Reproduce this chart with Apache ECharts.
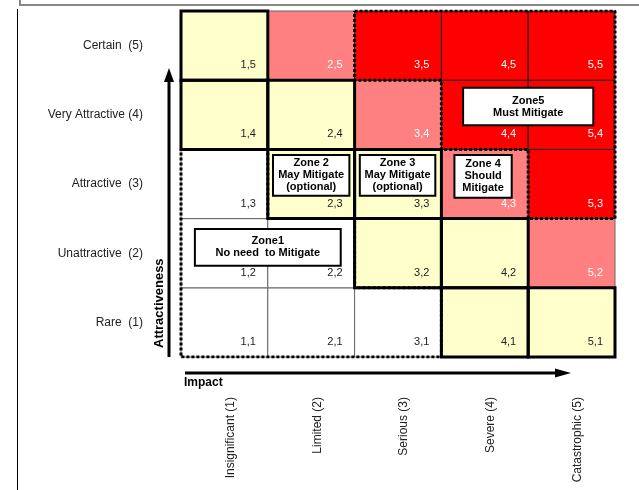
<!DOCTYPE html>
<html>
<head>
<meta charset="utf-8">
<script src="https://cdn.jsdelivr.net/npm/echarts@6/dist/echarts.min.js"></script>
<style>
  html, body { margin: 0; padding: 0; background: #fff; }
  #chart { width: 639px; height: 490px; }
</style>
</head>
<body>
<div id="chart"></div>
<script>
const FONT = '"Liberation Sans", Arial, sans-serif';

const impactLabels = ['Insignificant (1)', 'Limited (2)', 'Serious (3)', 'Severe (4)', 'Catastrophic (5)'];
const attractLabels = ['Rare  (1)', 'Unattractive  (2)', 'Attractive  (3)', 'Very Attractive (4)', 'Certain  (5)'];

// risk level of each cell: row = attractiveness 1..5, column = impact 1..5
// 0 white, 1 yellow, 2 salmon, 3 red
const riskLevels = [
  [0, 0, 0, 1, 1],
  [0, 0, 1, 1, 2],
  [0, 1, 1, 2, 3],
  [1, 1, 2, 3, 3],
  [1, 2, 3, 3, 3]
];
const levelColors = ['#ffffff', '#ffffcc', '#ff8080', '#ff0000'];
const labelColors = ['#222222', '#222222', '#ffffff', '#ffffff'];

// dotted zone outlines, along the cell edges
const zone1Outline = [[0.5, 3.5], [1.5, 3.5], [1.5, 2.5], [2.5, 2.5], [2.5, 1.5], [3.5, 1.5], [3.5, 0.5], [0.5, 0.5], [0.5, 3.5]];
const zone5Outline = [[2.5, 5.5], [5.5, 5.5], [5.5, 2.5], [4.5, 2.5], [4.5, 3.5], [3.5, 3.5], [3.5, 4.5], [2.5, 4.5], [2.5, 5.5]];
const zone3Edge = [[2.5, 2.5], [3.5, 2.5]];

// zone boxes: [x0, y0, x1, y1] in cell units
const zoneBoxes = [
  [0.66, 2.35, 2.34, 1.82],
  [1.56, 3.42, 2.44, 2.83],
  [2.56, 3.42, 3.43, 2.83],
  [3.65, 3.42, 4.31, 2.80],
  [3.75, 4.39, 5.25, 3.85]
];
const zoneTexts = [
  'Zone1\nNo need  to Mitigate',
  'Zone 2\nMay Mitigate\n(optional)',
  'Zone 3\nMay Mitigate\n(optional)',
  'Zone 4\nShould\nMitigate',
  'Zone5\nMust Mitigate'
];

const cells = [];
riskLevels.forEach((row, yi) => {
  row.forEach((lvl, xi) => cells.push([xi + 1, yi + 1, lvl]));
});
const yellowCells = cells.filter(c => c[2] === 1);

const renderCell = (params, api) => {
  const x = api.value(0), y = api.value(1), lvl = api.value(2);
  const c = api.coord([x, y]);
  const s = api.size([1, 1]);
  return {
    type: 'group',
    children: [
      {
        type: 'rect',
        shape: { x: c[0] - s[0] / 2, y: c[1] - s[1] / 2, width: s[0], height: s[1] },
        style: { fill: levelColors[lvl], stroke: lvl === 3 ? '#222' : '#666', lineWidth: 1 }
      },
      {
        type: 'text',
        x: c[0] + s[0] / 2 - 12,
        y: c[1] + s[1] / 2 - 15,
        style: { text: x + ',' + y, align: 'right', verticalAlign: 'middle', fill: labelColors[lvl], font: '11px ' + FONT }
      }
    ]
  };
};

const renderYellowBorder = (params, api) => {
  const c = api.coord([api.value(0), api.value(1)]);
  const s = api.size([1, 1]);
  return {
    type: 'rect',
    shape: { x: c[0] - s[0] / 2, y: c[1] - s[1] / 2, width: s[0], height: s[1] },
    style: { fill: 'none', stroke: '#000', lineWidth: 3 }
  };
};

const renderZoneBox = (params, api) => {
  const p0 = api.coord([api.value(0), api.value(1)]);
  const p1 = api.coord([api.value(2), api.value(3)]);
  return {
    type: 'group',
    children: [
      {
        type: 'rect',
        shape: { x: p0[0], y: p0[1], width: p1[0] - p0[0], height: p1[1] - p0[1] },
        style: { fill: '#fff', stroke: '#000', lineWidth: 2 }
      },
      {
        type: 'text',
        x: (p0[0] + p1[0]) / 2,
        y: (p0[1] + p1[1]) / 2,
        style: {
          text: zoneTexts[params.dataIndex], align: 'center', verticalAlign: 'middle',
          fill: '#000', font: 'bold 11px ' + FONT, lineHeight: 12
        }
      }
    ]
  };
};

const dotted = (data) => ({
  type: 'line',
  xAxisIndex: 1,
  yAxisIndex: 1,
  data: data,
  symbol: 'none',
  silent: true,
  z: 5,
  lineStyle: { color: '#000', width: 3, type: [3, 2] }
});

const chart = echarts.init(document.getElementById('chart'));

chart.setOption({
  animation: false,
  grid: { left: 181, top: 11, right: 24, bottom: 133, containLabel: false },
  xAxis: [
    {
      type: 'category',
      data: impactLabels,
      axisLine: { show: false },
      axisTick: { show: false },
      splitLine: { show: false },
      axisLabel: { rotate: 90, margin: 40, fontSize: 12, fontFamily: FONT, color: '#222', verticalAlign: 'top', padding: 0 }
    },
    { type: 'value', min: 0.5, max: 5.5, show: false }
  ],
  yAxis: [
    {
      type: 'category',
      data: attractLabels,
      axisLine: { show: false },
      axisTick: { show: false },
      splitLine: { show: false },
      axisLabel: { margin: 38, fontSize: 12, fontFamily: FONT, color: '#222' }
    },
    { type: 'value', min: 0.5, max: 5.5, show: false }
  ],
  graphic: [
    { type: 'polyline', shape: { points: [[20, 0], [20, 5], [639, 5]] }, style: { stroke: '#888', lineWidth: 2, fill: 'none' } },
    { type: 'line', shape: { x1: 17.5, y1: 9, x2: 17.5, y2: 490 }, style: { stroke: '#000', lineWidth: 1 } },
    { type: 'line', shape: { x1: 169, y1: 357, x2: 169, y2: 80 }, style: { stroke: '#000', lineWidth: 3 } },
    { type: 'polygon', shape: { points: [[169, 68], [164, 82], [174, 82]] }, style: { fill: '#000' } },
    { type: 'line', shape: { x1: 185, y1: 373, x2: 558, y2: 373 }, style: { stroke: '#000', lineWidth: 3 } },
    { type: 'polygon', shape: { points: [[571, 373], [555, 368.5], [555, 377.5]] }, style: { fill: '#000' } },
    { type: 'text', x: 184, y: 383, style: { text: 'Impact', font: 'bold 12px ' + FONT, fill: '#000', align: 'left', verticalAlign: 'middle' } },
    { type: 'text', x: 159, y: 348, rotation: Math.PI / 2, style: { text: 'Attractiveness', font: 'bold 13px ' + FONT, fill: '#000', align: 'left', verticalAlign: 'middle' } }
  ],
  series: [
    {
      type: 'custom',
      xAxisIndex: 1,
      yAxisIndex: 1,
      renderItem: renderCell,
      encode: { x: 0, y: 1 },
      data: cells,
      clip: false,
      silent: true,
      z: 2
    },
    {
      type: 'custom',
      xAxisIndex: 1,
      yAxisIndex: 1,
      renderItem: renderYellowBorder,
      encode: { x: 0, y: 1 },
      data: yellowCells,
      clip: false,
      silent: true,
      z: 3
    },
    dotted(zone1Outline),
    dotted(zone5Outline),
    dotted(zone3Edge),
    {
      type: 'custom',
      xAxisIndex: 1,
      yAxisIndex: 1,
      renderItem: renderZoneBox,
      encode: { x: [0, 2], y: [1, 3] },
      data: zoneBoxes,
      clip: false,
      silent: true,
      z: 8
    }
  ]
});
</script>
</body>
</html>
